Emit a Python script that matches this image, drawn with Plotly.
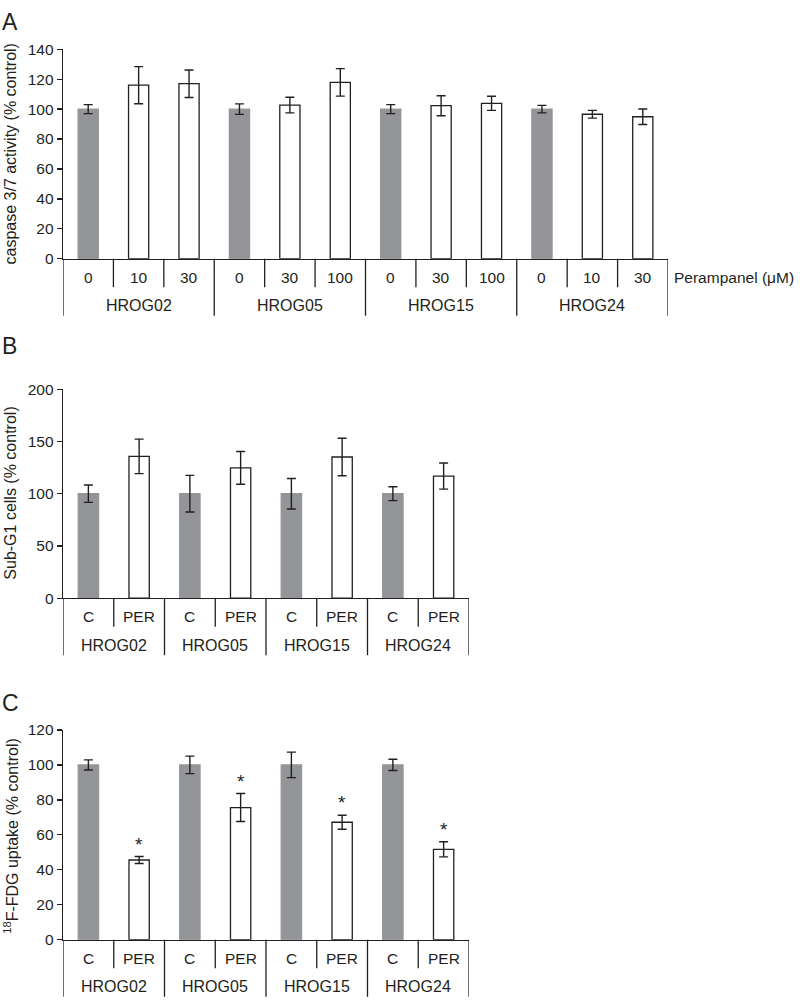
import plotly.graph_objects as go

FONT = "Liberation Sans, Arial, Helvetica, sans-serif"
GRAY = "#939598"
INK = "#231f20"
W, H = 800, 1008

# ---------------- data ----------------
groups = ["HROG02", "HROG05", "HROG15", "HROG24"]

# Panel A: caspase 3/7 activity
a_inner = [["0", "10", "30"], ["0", "30", "100"], ["0", "30", "100"], ["0", "10", "30"]]
a_values = [100, 116, 117, 100, 102.7, 117.9, 100, 102.3, 103.9, 100, 96.6, 94.9]
a_errors = [3, 12.4, 9.2, 3.5, 5.2, 9.2, 3, 6.7, 4.7, 2.5, 2.6, 5.2]
a_ytitle = "caspase 3/7 activity (% control)"
a_xtitle = "Perampanel (μM)"

# Panel B: Sub-G1 cells
b_inner = [["C", "PER"]] * 4
b_values = [100, 135.7, 100, 124.7, 100, 135.1, 100, 116.9]
b_errors = [8.3, 16.5, 17.5, 15.7, 14.6, 18, 6.6, 12.5]
b_ytitle = "Sub-G1 cells (% control)"

# Panel C: 18F-FDG uptake
c_inner = [["C", "PER"]] * 4
c_values = [100, 45.6, 100, 75.6, 100, 67.2, 100, 51.7]
c_errors = [2.9, 2.0, 5.0, 8.0, 7.3, 4.0, 3.2, 4.3]
c_sig = [False, True, False, True, False, True, False, True]
c_ytitle = "<sup>18</sup>F-FDG uptake (% control)"

fig = go.Figure()
layout = dict(width=W, height=H, margin=dict(l=0, r=0, t=0, b=0),
              paper_bgcolor="white", plot_bgcolor="white",
              font=dict(family=FONT, color=INK, size=15.5),
              showlegend=False)
shapes, annots = [], []


def add_panel(sfx, inner, values, errors, ymax, dtick, ytitle, xpx, ypx,
              letter, letter_y, title_size, title_y, sig=None, right_label=None):
    n = len(values)
    xs = list(range(n))
    ctrl = []
    starts = []
    k = 0
    for g in inner:
        starts.append(k)
        for j in range(len(g)):
            ctrl.append(j == 0)
        k += len(g)
    colors = [GRAY if c else "white" for c in ctrl]
    lcolors = [GRAY if c else INK for c in ctrl]
    xa = "x" + ("" if sfx == 1 else str(sfx))
    ya = "y" + ("" if sfx == 1 else str(sfx))
    fig.add_trace(go.Bar(
        x=xs, y=values, width=0.4, xaxis=xa, yaxis=ya, hoverinfo="skip",
        marker=dict(color=colors, line=dict(color=lcolors, width=1.3)),
        error_y=dict(type="data", array=errors, color=INK, thickness=1.4, width=4.5),
    ))
    hpx = ypx[1] - ypx[0]
    key = "" if sfx == 1 else str(sfx)
    layout["xaxis" + key] = dict(
        domain=[xpx[0] / W, xpx[1] / W], anchor=ya, range=[-0.5, n - 0.5],
        showline=True, linecolor=INK, linewidth=1.3, showticklabels=False,
        ticks="", showgrid=False, zeroline=False, fixedrange=True)
    layout["yaxis" + key] = dict(
        domain=[1 - ypx[1] / H, 1 - ypx[0] / H], anchor=xa, range=[0, ymax],
        dtick=dtick, showline=True, linecolor=INK, linewidth=1.3,
        ticks="outside", ticklen=5, tickwidth=1.3, tickcolor=INK, fixedrange=True,
        showgrid=False, zeroline=False, tickfont=dict(size=15.5, color=INK))
    yd = ya + " domain"
    # separators
    for b in range(1, n):
        if b not in starts:
            shapes.append(dict(type="line", xref=xa, yref=yd, x0=b - 0.5, x1=b - 0.5,
                               y0=0, y1=-29 / hpx, line=dict(color=INK, width=1.3)))
    for b in starts + [n]:
        shapes.append(dict(type="line", xref=xa, yref=yd, x0=b - 0.5, x1=b - 0.5,
                           y0=0, y1=-58 / hpx, line=dict(color=INK, width=1.3)))
    # labels
    i = 0
    for gi, g in enumerate(inner):
        for lab in g:
            annots.append(dict(x=i, y=-19 / hpx, xref=xa, yref=yd, text=lab,
                               showarrow=False, yanchor="middle", font=dict(size=15.5)))
            i += 1
        center = starts[gi] + (len(g) - 1) / 2
        annots.append(dict(x=center, y=-48 / hpx, xref=xa, yref=yd, text=groups[gi],
                           showarrow=False, yanchor="middle", font=dict(size=16)))
    if right_label:
        annots.append(dict(x=1, y=-19 / hpx, xref=xa + " domain", yref=yd, text=right_label,
                           showarrow=False, xanchor="left", xshift=4, yanchor="middle",
                           font=dict(size=15.5)))
    # y title
    annots.append(dict(x=11 / W, y=1 - title_y / H, xref="paper", yref="paper",
                       text=ytitle, textangle=-90, showarrow=False,
                       xanchor="center", yanchor="middle", font=dict(size=title_size)))
    # panel letter
    annots.append(dict(x=0, y=1 - letter_y / H, xref="paper", yref="paper", text=letter,
                       showarrow=False, xanchor="left", yanchor="middle", font=dict(size=23)))
    if sig:
        for j, s in enumerate(sig):
            if s:
                annots.append(dict(x=j, y=values[j] + errors[j], xref=xa, yref=ya, text="*",
                                   showarrow=False, yanchor="bottom", yshift=0,
                                   font=dict(size=19)))


add_panel(1, a_inner, a_values, a_errors, 140, 20, a_ytitle, (63, 668), (41, 254),
          "A", 13, 16, 148, right_label=a_xtitle)
add_panel(2, b_inner, b_values, b_errors, 200, 50, b_ytitle, (63, 469), (386.7, 599.3),
          "B", 343, 16, 493)
add_panel(3, c_inner, c_values, c_errors, 120, 20, c_ytitle, (63, 469), (733.3, 946.7),
          "C", 706, 16, 841, sig=c_sig)

layout["shapes"] = shapes
layout["annotations"] = annots
fig.update_layout(**layout)
fig.write_html("out.html", config={"displayModeBar": False, "staticPlot": True},
               post_script="document.body.style.margin='0';document.body.style.overflow='hidden';")
